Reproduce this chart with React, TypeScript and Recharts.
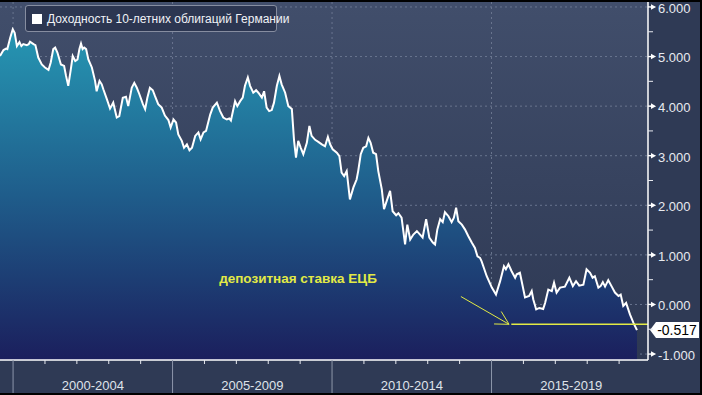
import React from 'react';
import {ComposedChart, Area, XAxis, YAxis, CartesianGrid, ReferenceLine, ReferenceDot} from 'recharts';

// decimal years
const dates = [
    1999.59, 1999.70, 1999.78, 1999.82, 1999.91, 1999.99, 2000.05, 2000.12, 2000.20, 2000.26,
    2000.32, 2000.43, 2000.49, 2000.53, 2000.64, 2000.70, 2000.79, 2000.90, 2001.00, 2001.11,
    2001.18, 2001.26, 2001.32, 2001.39, 2001.50, 2001.60, 2001.66, 2001.73, 2001.81, 2001.87,
    2001.95, 2002.02, 2002.08, 2002.13, 2002.18, 2002.23, 2002.29, 2002.36, 2002.47, 2002.57,
    2002.62, 2002.71, 2002.78, 2002.83, 2002.94, 2003.04, 2003.14, 2003.25, 2003.33, 2003.44,
    2003.54, 2003.61, 2003.72, 2003.80, 2003.88, 2003.96, 2004.07, 2004.14, 2004.21, 2004.29,
    2004.38, 2004.45, 2004.55, 2004.66, 2004.76, 2004.87, 2004.94, 2005.03, 2005.11, 2005.18,
    2005.29, 2005.36, 2005.45, 2005.53, 2005.61, 2005.71, 2005.81, 2005.88, 2005.97, 2006.05,
    2006.18, 2006.26, 2006.39, 2006.49, 2006.59, 2006.70, 2006.78, 2006.83, 2006.96, 2007.03,
    2007.12, 2007.20, 2007.27, 2007.36, 2007.43, 2007.53, 2007.62, 2007.69, 2007.80, 2007.87,
    2007.95, 2008.03, 2008.11, 2008.18, 2008.27, 2008.35, 2008.42, 2008.53, 2008.63, 2008.74,
    2008.81, 2008.87, 2008.94, 2009.02, 2009.10, 2009.21, 2009.29, 2009.36, 2009.47, 2009.57,
    2009.68, 2009.78, 2009.87, 2009.94, 2010.02, 2010.15, 2010.23, 2010.30, 2010.38, 2010.46,
    2010.56, 2010.67, 2010.77, 2010.82, 2010.90, 2010.98, 2011.07, 2011.14, 2011.21, 2011.29,
    2011.38, 2011.45, 2011.56, 2011.63, 2011.73, 2011.82, 2011.90, 2012.01, 2012.08, 2012.18,
    2012.29, 2012.36, 2012.45, 2012.55, 2012.66, 2012.76, 2012.84, 2012.95, 2013.05, 2013.16,
    2013.23, 2013.30, 2013.39, 2013.47, 2013.54, 2013.65, 2013.75, 2013.82, 2013.89, 2013.96,
    2014.07, 2014.17, 2014.27, 2014.38, 2014.48, 2014.56, 2014.64, 2014.69, 2014.85, 2015.01,
    2015.14, 2015.27, 2015.39, 2015.45, 2015.53, 2015.63, 2015.74, 2015.79, 2015.89, 2016.05,
    2016.18, 2016.26, 2016.31, 2016.40, 2016.50, 2016.62, 2016.68, 2016.78, 2016.89, 2016.96,
    2017.04, 2017.15, 2017.30, 2017.44, 2017.55, 2017.65, 2017.75, 2017.88, 2017.98, 2018.09,
    2018.17, 2018.24, 2018.35, 2018.42, 2018.49, 2018.56, 2018.66, 2018.77, 2018.87, 2018.98,
    2019.05, 2019.13, 2019.22, 2019.34, 2019.45, 2019.56,
];

// yield of German 10y Bunds, %
const yields = [
    5.01, 5.13, 5.16, 5.15, 5.38, 5.55, 5.48, 5.21, 5.29, 5.21,
    5.25, 5.23, 5.25, 5.30, 5.25, 5.23, 4.98, 4.84, 4.78, 4.73,
    4.88, 5.15, 5.18, 5.08, 4.84, 4.81, 4.61, 4.41, 4.74, 5.01,
    4.91, 4.94, 5.15, 5.26, 5.15, 5.18, 5.15, 4.94, 4.78, 4.51,
    4.30, 4.51, 4.44, 4.34, 4.14, 3.95, 4.07, 3.77, 3.80, 4.17,
    4.19, 4.00, 4.37, 4.47, 4.37, 4.24, 4.04, 3.94, 4.17, 4.37,
    4.32, 4.20, 4.04, 3.97, 3.81, 3.72, 3.57, 3.73, 3.67, 3.43,
    3.30, 3.16, 3.23, 3.11, 3.16, 3.40, 3.47, 3.33, 3.47, 3.50,
    3.83, 3.97, 4.07, 3.90, 3.77, 3.73, 3.75, 3.71, 4.10, 4.00,
    4.10, 4.17, 4.41, 4.58, 4.41, 4.27, 4.32, 4.27, 4.17, 4.30,
    3.97, 3.90, 3.92, 4.07, 4.41, 4.61, 4.44, 4.27, 4.00, 3.94,
    3.30, 2.96, 3.30, 3.16, 3.03, 3.26, 3.60, 3.40, 3.32, 3.28,
    3.23, 3.19, 3.38, 3.23, 3.13, 3.06, 2.99, 2.66, 2.59, 2.69,
    2.12, 2.36, 2.52, 2.69, 3.03, 3.16, 3.19, 3.36, 3.26, 3.06,
    3.03, 2.69, 2.32, 1.92, 2.12, 2.29, 1.88, 1.80, 1.84, 1.75,
    1.21, 1.61, 1.31, 1.41, 1.48, 1.41, 1.35, 1.72, 1.35, 1.25,
    1.21, 1.51, 1.72, 1.66, 1.86, 1.78, 1.66, 1.75, 1.95, 1.68,
    1.61, 1.51, 1.38, 1.25, 1.14, 0.97, 0.94, 0.87, 0.57, 0.34,
    0.20, 0.47, 0.77, 0.71, 0.81, 0.67, 0.54, 0.61, 0.64, 0.14,
    0.17, 0.27, 0.10, -0.10, -0.07, -0.09, 0.03, 0.30, 0.27, 0.44,
    0.24, 0.34, 0.36, 0.54, 0.37, 0.47, 0.38, 0.40, 0.71, 0.64,
    0.54, 0.57, 0.34, 0.37, 0.45, 0.36, 0.49, 0.36, 0.24, 0.17,
    0.20, -0.03, 0.03, -0.20, -0.37, -0.517,
];

const yearTicks = [2000, 2001, 2002, 2003, 2004, 2005, 2006, 2007, 2008, 2009,
    2010, 2011, 2012, 2013, 2014, 2015, 2016, 2017, 2018, 2019];
const periodMids = [2002.5, 2007.5, 2012.5, 2017.5];
const periodLabels = ['2000-2004', '2005-2009', '2010-2014', '2015-2019'];
const gridYears = [2000, 2005, 2010, 2015];
const gridValues = [-1, 0, 1, 2, 3, 4, 5, 6];
const yTicks = [-1, -0.5, 0, 0.5, 1, 1.5, 2, 2.5, 3, 3.5, 4, 4.5, 5, 5.5, 6];

const xDomain = [1999.59, 2019.906];
const yDomain = [-1.12, 6.1];

const ecbRate = -0.4;
const ecbStart = 2015.62;
const arrowFrom = {x: 2014.04, y: 0.16};
const arrowTo = {x: 2015.55, y: -0.4};
const ecbText = 'депозитная ставка ЕЦБ';
const ecbTextAt = {x: 2006.46, y: 0.43};
const lastYield = -0.517;
const seriesName = 'Доходность 10-летних облигаций Германии';

const data = dates.map((t, i) => ({t, y: yields[i]}));

const YELLOW = '#e2ea45';

const XTick = ({x, y, payload}: any) => {
    const v = payload.value;
    const i = periodMids.indexOf(v);
    if (i >= 0) {
        return <text x={x} y={y + 25} dy="0.35em" textAnchor="middle" fill="#dfe3ea" fontSize={13}>{periodLabels[i]}</text>;
    }
    if (v % 5 === 0) {
        return <line x1={x} y1={y} x2={x} y2={y + 33} stroke="#8d96aa" strokeWidth={1} />;
    }
    return <line x1={x} y1={y} x2={x} y2={y + 4} stroke="#e8eaf0" strokeWidth={1} />;
};

const YTick = ({x, y, payload}: any) => {
    const v = payload.value;
    if (!Number.isInteger(v)) {
        return <line x1={x} y1={y} x2={x + 5} y2={y} stroke="#e8eaf0" strokeWidth={1} />;
    }
    return (
        <g>
            <polygon points={`${x},${y - 0.6} ${x + 4},${y - 0.8} ${x + 8},${y} ${x + 4},${y + 0.8} ${x},${y + 0.6}`} fill="#fff" />
            <polygon points={`${x + 3},${y - 2.8} ${x + 8},${y} ${x + 3},${y + 2.8}`} fill="#fff" />
            <text x={x + 10} y={y} dy="0.45em" fill="#e8eaf0" fontSize={13}>{v.toFixed(3)}</text>
        </g>
    );
};

const ArrowShape = ({x1, y1, x2, y2}: any) => {
    const ang = Math.atan2(y2 - y1, x2 - x1) + Math.PI;
    const len = 15;
    const a1 = ang - 0.5;
    const a2 = ang + 0.5;
    return (
        <g stroke={YELLOW} strokeWidth={1} fill="none">
            <line x1={x1} y1={y1} x2={x2} y2={y2} />
            <polyline points={`${x2 + len * Math.cos(a1)},${y2 + len * Math.sin(a1)} ${x2},${y2} ${x2 + len * Math.cos(a2)},${y2 + len * Math.sin(a2)}`} />
        </g>
    );
};

const EndLabel = ({viewBox}: any) => {
    const x = viewBox.x + viewBox.width + 2;
    const y = viewBox.y;
    return (
        <g>
            <polygon points={`${x},${y} ${x + 6},${y - 8} ${x + 49},${y - 8} ${x + 49},${y + 8} ${x + 6},${y + 8}`} fill="#fff" />
            <text x={x + 27} y={y} dy="0.36em" textAnchor="middle" fill="#000" fontSize={14}>{lastYield.toFixed(3)}</text>
        </g>
    );
};

// legend drawn as an overlay so it does not eat plot space
const LegendBox = () => (
    <div style={{
        position: 'absolute', left: 25, top: 5, boxSizing: 'border-box', width: 252, height: 27,
        border: '1px solid #868da0', borderRadius: 3, background: '#2c3651',
        display: 'flex', alignItems: 'center', paddingLeft: 6, gap: 5, whiteSpace: 'nowrap',
    }}>
        <span style={{width: 10, height: 10, background: '#fff', display: 'inline-block', flex: 'none'}} />
        <span style={{color: '#f0f2f6', fontSize: 12}}>{seriesName}</span>
    </div>
);

export default function App() {
    return (
        <div style={{position: 'absolute', left: 0, top: 0, width: 702, height: 395, background: '#000', fontFamily: '"Liberation Sans", Arial, sans-serif'}}>
            <div style={{position: 'absolute', left: 0, top: 2}}>
                <ComposedChart width={700} height={391} data={data} margin={{top: 0, right: 0, bottom: 0, left: 0}}
                               style={{background: '#2f3a55'}}>
                    <defs>
                        <linearGradient id="bgGrad" x1="0" y1="0" x2="0" y2="1">
                            <stop offset="0%" stopColor="#414e6b" />
                            <stop offset="100%" stopColor="#2d3853" />
                        </linearGradient>
                        <linearGradient id="areaGrad" x1="0" y1="0" x2="0" y2="1">
                            <stop offset="0%" stopColor="#2697b3" />
                            <stop offset="50%" stopColor="#1f5d8b" />
                            <stop offset="100%" stopColor="#1b1f5d" />
                        </linearGradient>
                    </defs>
                    <CartesianGrid fill="url(#bgGrad)" fillOpacity={1} stroke="#69758f" strokeDasharray="2 3"
                                   horizontalValues={gridValues} verticalValues={gridYears} />
                    <XAxis dataKey="t" type="number" domain={xDomain} allowDataOverflow ticks={[...yearTicks, ...periodMids]}
                           interval={0} height={33} tickSize={0} tickMargin={0} tickLine={false}
                           axisLine={{stroke: '#fff', strokeWidth: 1.5}} tick={<XTick />} />
                    <YAxis orientation="right" type="number" domain={yDomain} allowDataOverflow ticks={yTicks}
                           interval={0} width={52} tickSize={0} tickMargin={0} tickLine={false}
                           axisLine={{stroke: '#fff', strokeWidth: 1.5}} tick={<YTick />} />
                    <Area type="linear" dataKey="y" name={seriesName} stroke="#fff" strokeWidth={2} fill="url(#areaGrad)"
                          fillOpacity={1} baseValue={yDomain[0]} dot={false} activeDot={false} isAnimationActive={false} />
                    <ReferenceLine segment={[{x: ecbStart, y: ecbRate}, {x: xDomain[1], y: ecbRate}]} stroke={YELLOW} strokeWidth={1.5} />
                    <ReferenceLine segment={[arrowFrom, arrowTo]} shape={<ArrowShape />} />
                    <ReferenceLine y={lastYield} stroke="none" label={<EndLabel />} />
                    <ReferenceDot x={ecbTextAt.x} y={ecbTextAt.y} r={0}
                                  shape={(p: any) => <text x={p.cx} y={p.cy} fill={YELLOW} fontSize={13.5} fontWeight="bold">{ecbText}</text>} />
                </ComposedChart>
            </div>
            <LegendBox />
        </div>
    );
}
